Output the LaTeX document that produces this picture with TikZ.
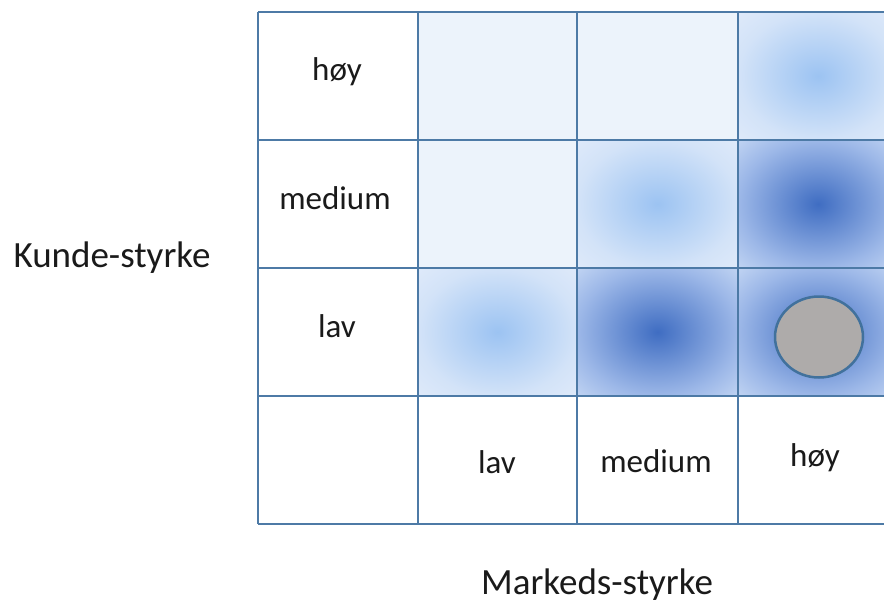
\documentclass[tikz,border=0pt]{standalone}
\usepackage{fontspec}
\setmainfont{Carlito}
\usetikzlibrary{shapes.geometric}

\definecolor{gridline}{HTML}{4D7AA6}
\definecolor{plainfill}{HTML}{ECF3FB}
\definecolor{lightA}{HTML}{9CC3F2}
\definecolor{lightB}{HTML}{D3E3F8}
\definecolor{lightC}{HTML}{DFEAFA}
\definecolor{darkA}{HTML}{3F6DC2}
\definecolor{darkB}{HTML}{9DB8E8}
\definecolor{darkC}{HTML}{C2D5F3}
\definecolor{markerfill}{HTML}{AEABAA}
\definecolor{markerline}{HTML}{41719C}
\definecolor{textcol}{HTML}{1A1A1A}

\pgfdeclareradialshading{cellLight}{\pgfpoint{0bp}{0bp}}{%
  color(0bp)=(lightA); color(25bp)=(lightB); color(36bp)=(lightC); color(50bp)=(lightC)}
\pgfdeclareradialshading{cellDark}{\pgfpoint{0bp}{0bp}}{%
  color(0bp)=(darkA); color(25bp)=(darkB); color(36bp)=(darkC); color(50bp)=(darkC)}

\tikzset{
  gridpen/.style={draw=gridline, line width=2pt},
  plaincell/.style={fill=plainfill},
  lightcell/.style={shading=cellLight},
  darkcell/.style={shading=cellDark},
  celltext/.style={font=\fontsize{33}{36}\selectfont, text=textcol, inner sep=0pt},
  axistext/.style={font=\fontsize{37}{40}\selectfont, text=textcol, inner sep=0pt},
}

\begin{document}
\begin{tikzpicture}[x=1pt, y=-1pt]
\useasboundingbox (0,0) rectangle (884,605);
\clip (0,0) rectangle (884,605);

% cell backgrounds (columns 418-577-738-898, rows 12-140-268-396)
\fill[plaincell] (418,12) rectangle (577,140);
\fill[plaincell] (577,12) rectangle (738,140);
\shade[lightcell] (738,12) rectangle (898,140);
\fill[plaincell] (418,140) rectangle (577,268);
\shade[lightcell] (577,140) rectangle (738,268);
\shade[darkcell] (738,140) rectangle (898,268);
\shade[lightcell] (418,268) rectangle (577,396);
\shade[darkcell] (577,268) rectangle (738,396);
\shade[darkcell] (738,268) rectangle (898,396);

% grid lines
\foreach \yy in {12,140,268,396,524}
  \draw[gridpen] (258,\yy) -- (898,\yy);
\foreach \xx in {258,418,577,738}
  \draw[gridpen] (\xx,12) -- (\xx,524);

% marker
\node[ellipse, draw=markerline, line width=2.5pt, fill=markerfill,
      minimum width=88pt, minimum height=81pt, inner sep=0pt] (marker) at (819,337) {};

% row labels
\node[celltext] (rowhigh) at (337,72) {høy};
\node[celltext] (rowmed) at (335,198) {medium};
\node[celltext] (rowlow) at (337,326) {lav};

% column labels
\node[celltext] (collow) at (497,462) {lav};
\node[celltext] (colmed) at (656,461) {medium};
\node[celltext] (colhigh) at (815,458) {høy};

% axis titles
\node[axistext] (yaxis) at (112,258) {Kunde-styrke};
\node[axistext] (xaxis) at (597,585) {Markeds-styrke};
\end{tikzpicture}
\end{document}
